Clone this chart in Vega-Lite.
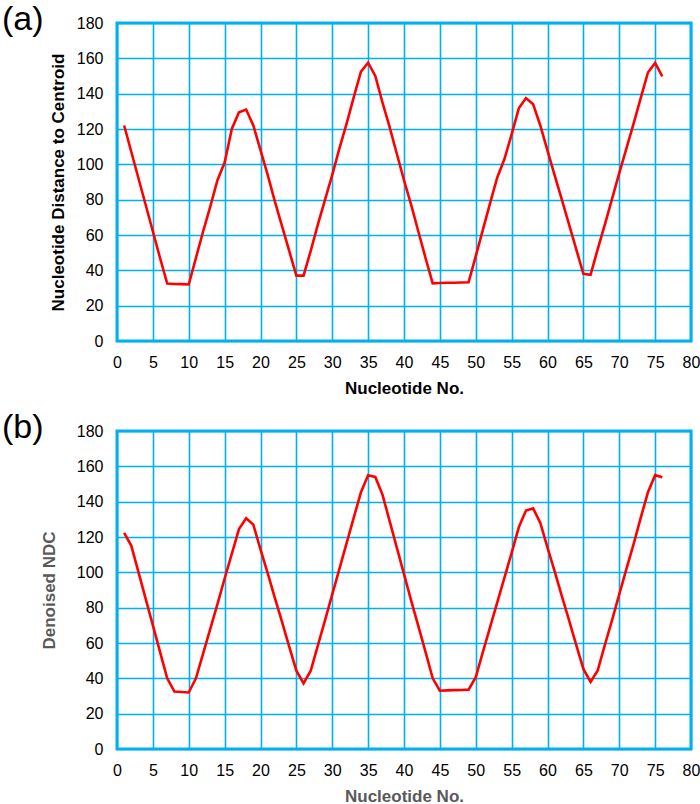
{
  "$schema": "https://vega.github.io/schema/vega-lite/v6.json",
  "padding": {"left": 0, "top": 1, "right": 2, "bottom": 0},
  "spacing": 11,
  "background": "white",
  "datasets": {
    "a": [
      {"n":1,"v":122},{"n":2,"v":107},{"n":3,"v":92},{"n":4,"v":77},{"n":5,"v":62},{"n":6,"v":47},{"n":7,"v":32.5},{"n":8,"v":32.3},{"n":9,"v":32.2},{"n":10,"v":32},
      {"n":11,"v":47},{"n":12,"v":62},{"n":13,"v":76},{"n":14,"v":91},{"n":15,"v":101},{"n":16,"v":120},{"n":17,"v":129.5},{"n":18,"v":131},{"n":19,"v":122},{"n":20,"v":108},
      {"n":21,"v":94},{"n":22,"v":79},{"n":23,"v":65},{"n":24,"v":51},{"n":25,"v":37},{"n":26,"v":37},{"n":27,"v":51},{"n":28,"v":66},{"n":29,"v":80},{"n":30,"v":94},
      {"n":31,"v":109},{"n":32,"v":123},{"n":33,"v":138},{"n":34,"v":152.5},{"n":35,"v":157.5},{"n":36,"v":150},{"n":37,"v":135},{"n":38,"v":121},{"n":39,"v":106},{"n":40,"v":91},
      {"n":41,"v":77},{"n":42,"v":62},{"n":43,"v":47},{"n":44,"v":32.6},{"n":45,"v":32.8},{"n":46,"v":33},{"n":47,"v":33},{"n":48,"v":33.1},{"n":49,"v":33.2},{"n":50,"v":48},
      {"n":51,"v":63},{"n":52,"v":78},{"n":53,"v":92.6},{"n":54,"v":103},{"n":55,"v":117},{"n":56,"v":131.7},{"n":57,"v":137.5},{"n":58,"v":134},{"n":59,"v":122},{"n":60,"v":107.7},
      {"n":61,"v":93.8},{"n":62,"v":80},{"n":63,"v":66},{"n":64,"v":52},{"n":65,"v":38},{"n":66,"v":37.5},{"n":67,"v":52},{"n":68,"v":66},{"n":69,"v":80.5},{"n":70,"v":95},
      {"n":71,"v":109},{"n":72,"v":123},{"n":73,"v":137.6},{"n":74,"v":152},{"n":75,"v":157.4},{"n":76,"v":149.8}
    ],
    "b": [
      {"n":1,"v":122.3},{"n":2,"v":115},{"n":3,"v":100},{"n":4,"v":85},{"n":5,"v":70},{"n":6,"v":55},{"n":7,"v":40},{"n":8,"v":32.5},{"n":9,"v":32.3},{"n":10,"v":32},
      {"n":11,"v":40},{"n":12,"v":54},{"n":13,"v":68},{"n":14,"v":82},{"n":15,"v":96.5},{"n":16,"v":110.5},{"n":17,"v":124.5},{"n":18,"v":130.6},{"n":19,"v":127},{"n":20,"v":113},
      {"n":21,"v":99.5},{"n":22,"v":85.5},{"n":23,"v":72},{"n":24,"v":58},{"n":25,"v":44.3},{"n":26,"v":37.2},{"n":27,"v":44.3},{"n":28,"v":58.7},{"n":29,"v":73},{"n":30,"v":87.5},
      {"n":31,"v":102},{"n":32,"v":116.5},{"n":33,"v":131},{"n":34,"v":145.3},{"n":35,"v":155},{"n":36,"v":154},{"n":37,"v":144},{"n":38,"v":129},{"n":39,"v":114},{"n":40,"v":99},
      {"n":41,"v":84},{"n":42,"v":69.5},{"n":43,"v":55},{"n":44,"v":40},{"n":45,"v":33},{"n":46,"v":33.2},{"n":47,"v":33.3},{"n":48,"v":33.4},{"n":49,"v":33.6},{"n":50,"v":40.6},
      {"n":51,"v":55},{"n":52,"v":69},{"n":53,"v":83},{"n":54,"v":97},{"n":55,"v":111},{"n":56,"v":125.5},{"n":57,"v":135},{"n":58,"v":136.2},{"n":59,"v":128},{"n":60,"v":114},
      {"n":61,"v":100.5},{"n":62,"v":86.5},{"n":63,"v":73},{"n":64,"v":59},{"n":65,"v":45.3},{"n":66,"v":38},{"n":67,"v":44.5},{"n":68,"v":59},{"n":69,"v":73},{"n":70,"v":87.5},
      {"n":71,"v":102},{"n":72,"v":116},{"n":73,"v":131},{"n":74,"v":145.3},{"n":75,"v":155},{"n":76,"v":153.8}
    ]
  },
  "config": {
    "font": "Liberation Sans",
    "view": {"stroke": "#00b0f0", "strokeWidth": 3},
    "axis": {
      "domain": false,
      "ticks": false,
      "grid": true,
      "labelFlush": false,
      "gridColor": "#00b0f0",
      "gridWidth": 1.6,
      "gridOpacity": 1,
      "labelFont": "Liberation Sans",
      "labelFontSize": 16,
      "labelColor": "#000000",
      "titleFont": "Liberation Sans",
      "titleFontSize": 17,
      "titleFontWeight": "bold"
    },
    "title": {"font": "Liberation Sans", "fontSize": 34, "fontWeight": "normal", "color": "#000000", "anchor": "start", "frame": "group"}
  },
  "vconcat": [
    {
      "title": {"text": "(a)", "dx": -115, "offset": -22},
      "data": {"name": "a"},
      "width": 574,
      "height": 318,
      "mark": {"type": "line", "color": "#ff0000", "strokeWidth": 2.6},
      "encoding": {
        "x": {"field": "n", "type": "quantitative", "scale": {"domain": [0, 80], "nice": false},
              "axis": {"values": [0,5,10,15,20,25,30,35,40,45,50,55,60,65,70,75,80], "title": "Nucleotide No.", "labelPadding": 13, "titlePadding": 10, "titleColor": "#000000"}},
        "y": {"field": "v", "type": "quantitative", "scale": {"domain": [0, 180], "nice": false},
              "axis": {"values": [0,20,40,60,80,100,120,140,160,180], "title": "Nucleotide Distance to Centroid", "labelPadding": 14, "titlePadding": 9, "titleColor": "#000000"}}
      }
    },
    {
      "title": {"text": "(b)", "dx": -115, "offset": -22},
      "data": {"name": "b"},
      "width": 574,
      "height": 318,
      "mark": {"type": "line", "color": "#ff0000", "strokeWidth": 2.6},
      "encoding": {
        "x": {"field": "n", "type": "quantitative", "scale": {"domain": [0, 80], "nice": false},
              "axis": {"values": [0,5,10,15,20,25,30,35,40,45,50,55,60,65,70,75,80], "title": "Nucleotide No.", "labelPadding": 13, "titlePadding": 10, "titleColor": "#595959"}},
        "y": {"field": "v", "type": "quantitative", "scale": {"domain": [0, 180], "nice": false},
              "axis": {"values": [0,20,40,60,80,100,120,140,160,180], "title": "Denoised NDC", "labelPadding": 14, "titlePadding": 18, "titleColor": "#595959"}}
      }
    }
  ]
}
